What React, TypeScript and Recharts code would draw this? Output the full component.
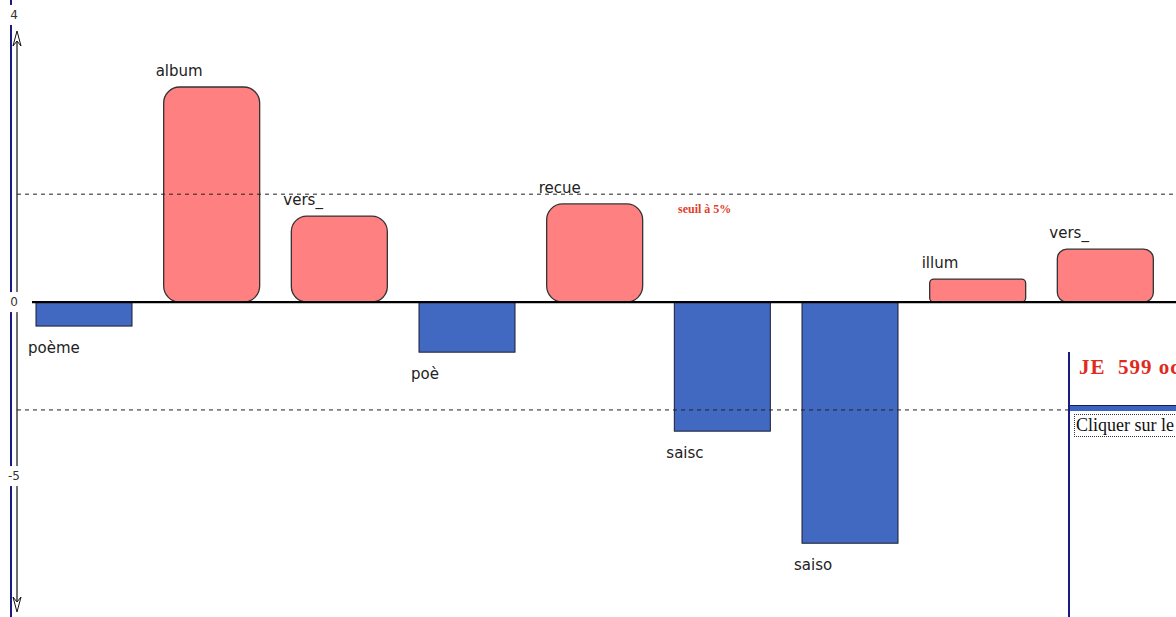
import React from "react";
import { BarChart, Bar, XAxis, YAxis, ReferenceLine, LabelList } from "recharts";

const CATEGORIES = ["poème", "album", "vers_", "poè", "recue", "saisc", "saiso", "illum", "vers_"];
const SCORES = [-0.69, 6.18, 2.47, -1.44, 2.82, -3.71, -6.93, 0.66, 1.52];
const THRESHOLD = 3.1;
const Y_DOMAIN: [number, number] = [-9.05, 8.68];
const Y_TICKS = [8.25, 0, -5];
const Y_TICK_LABELS = ["4", "0", "-5"];
const THRESHOLD_LABEL = "seuil à 5%";
const PANEL_TITLE = "JE  599 oc";
const PANEL_LINK = "Cliquer sur le";

const data = CATEGORIES.map((c, i) => ({ id: i, label: c, score: SCORES[i] }));

const W = 1176;
const H = 617;

const BarShape = (p: any) => {
  const top = Math.min(p.y, p.y + p.height);
  const h = Math.abs(p.height);
  const positive = SCORES[p.index] >= 0;
  if (positive) {
    const r = Math.min(16, h * 0.18, p.width / 2);
    return <rect x={p.x} y={top} width={p.width} height={h} rx={r} ry={r} fill="#FF8080" stroke="#333" strokeWidth={1.3} />;
  }
  return <rect x={p.x} y={top} width={p.width} height={h} fill="#4169C2" stroke="#1c1c30" strokeWidth={1} />;
};

const BarLabel = (p: any) => {
  const top = Math.min(p.y, p.y + p.height);
  const bottom = Math.max(p.y, p.y + p.height);
  const positive = SCORES[p.index] >= 0;
  const ty = positive ? top - 16 : bottom + 22;
  return (
    <text x={p.x - 8} y={ty} dominantBaseline="central" textAnchor="start" fontFamily="'DejaVu Sans', sans-serif" fontSize={15} fill="#222">
      {p.value}
    </text>
  );
};

const YTick = (p: any) => {
  const idx = Y_TICKS.indexOf(p.payload.value);
  const label = Y_TICK_LABELS[idx] ?? String(p.payload.value);
  return (
    <g>
      <rect x={p.x - 7} y={p.y - 10} width={10} height={20} fill="#fff" />
      <text x={p.x - 3} y={p.y} textAnchor="middle" dominantBaseline="central" fontFamily="'DejaVu Sans', sans-serif" fontSize={12} fill="#333">
        {label}
      </text>
    </g>
  );
};

const AxisArrows = (p: any) => {
  const vb = p.viewBox || {};
  const x = (vb.x ?? 0) + (vb.width ?? 17);
  const y0 = (vb.y ?? 0) + 31;
  const y1 = (vb.y ?? 0) + (vb.height ?? H) - 5;
  return (
    <g>
      <line x1={x} y1={y0 + 4} x2={x} y2={y1 - 4} stroke="#111" strokeWidth={1.2} />
      <path d={`M${x},${y0} L${x - 4},${y0 + 15} L${x},${y0 + 10} L${x + 4},${y0 + 15} Z`} fill="#fff" stroke="#111" strokeWidth={1} />
      <path d={`M${x},${y1} L${x - 4},${y1 - 15} L${x},${y1 - 10} L${x + 4},${y1 - 15} Z`} fill="#fff" stroke="#111" strokeWidth={1} />
    </g>
  );
};

const SeuilLabel = (p: any) => {
  const vb = p.viewBox || {};
  return (
    <text x={(vb.x ?? 0) + 661} y={(vb.y ?? 0) + 19} fontFamily="'Liberation Serif', serif" fontWeight="bold" fontSize={12} fill="#e0402a">
      {THRESHOLD_LABEL}
    </text>
  );
};

const ZeroLine = (p: any) => (
  <line x1={(p.x1 ?? 17) + 15} y1={p.y1} x2={p.x2} y2={p.y2} stroke="#000" strokeWidth={2.2} />
);

export default function App() {
  return (
    <div style={{ position: "fixed", left: 0, top: 0, width: W, height: H, overflow: "hidden", background: "#fff" }}>
      <div style={{ position: "absolute", left: 10, top: 0, width: 2, height: H, background: "#1a1a80" }} />
      <BarChart width={W} height={H} data={data} margin={{ top: 0, right: 0, bottom: 0, left: 0 }} barSize={96} style={{ position: "absolute", left: 0, top: 0 }}>
        <XAxis dataKey="id" hide padding={{ left: 3, right: 7 }} />
        <YAxis
          width={17}
          domain={Y_DOMAIN}
          allowDataOverflow
          ticks={Y_TICKS}
          interval={0}
          axisLine={false}
          tickLine={false}
          tickSize={0}
          tickMargin={0}
          tick={<YTick />}
          label={{ content: <AxisArrows /> }}
        />
        <ReferenceLine y={THRESHOLD} stroke="#222" strokeDasharray="4 4" strokeWidth={1} label={{ content: <SeuilLabel /> }} />
        <ReferenceLine y={-THRESHOLD} stroke="#222" strokeDasharray="4 4" strokeWidth={1} />
        <Bar dataKey="score" isAnimationActive={false} shape={<BarShape />}>
          <LabelList dataKey="label" content={<BarLabel />} />
        </Bar>
        <ReferenceLine y={0} stroke="#000" strokeWidth={2.2} shape={<ZeroLine />} />
      </BarChart>
      <div style={{ position: "absolute", left: 1068, top: 352, width: 108, height: H - 352, background: "#fff", borderLeft: "2px solid #1a1a80", overflow: "hidden" }}>
        <div style={{ position: "absolute", left: 9, top: 3, whiteSpace: "pre", fontFamily: "'Liberation Serif', serif", fontWeight: "bold", fontSize: 21, letterSpacing: 1, color: "#e02a20" }}>
          {PANEL_TITLE}
        </div>
        <div style={{ position: "absolute", left: 0, top: 53, width: 108, height: 5, background: "#3a64c0", borderTop: "1px solid #1a1a60" }} />
        <div style={{ position: "absolute", left: 4, top: 62, whiteSpace: "pre", fontFamily: "'Liberation Serif', serif", fontSize: 18, color: "#111", borderTop: "1px dotted #333", borderBottom: "1px dotted #333", borderLeft: "1px dotted #333", padding: "0 1px", lineHeight: "21px" }}>
          {PANEL_LINK}
        </div>
      </div>
    </div>
  );
}
